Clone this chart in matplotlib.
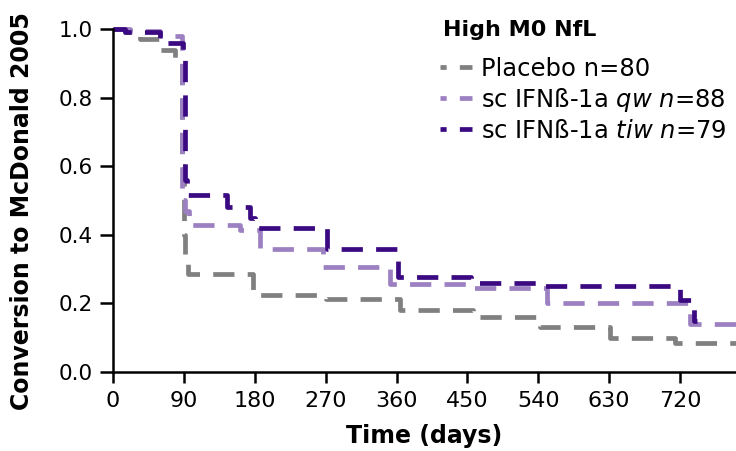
import matplotlib
matplotlib.use("Agg")
import matplotlib.pyplot as plt

# step curves: (day, value after the step)
placebo_t = [0, 15, 34, 60, 79, 88, 90, 92, 95, 178, 270, 364, 457, 542, 631, 714, 791]
placebo_s = [1.0, 0.99, 0.97, 0.94, 0.90, 0.60, 0.40, 0.326, 0.286, 0.225, 0.213, 0.18, 0.16, 0.13, 0.10, 0.085, 0.085]

qw_t = [0, 22, 60, 88, 92, 97, 161, 187, 267, 352, 455, 551, 733, 791]
qw_s = [1.0, 0.995, 0.98, 0.50, 0.47, 0.43, 0.415, 0.36, 0.305, 0.257, 0.245, 0.20, 0.14, 0.14]

tiw_t = [0, 15, 60, 89, 91, 94, 145, 174, 180, 272, 362, 455, 542, 720, 738, 741]
tiw_s = [1.0, 0.99, 0.96, 0.94, 0.56, 0.515, 0.48, 0.45, 0.42, 0.36, 0.277, 0.26, 0.25, 0.21, 0.15, 0.15]

labels = ["Placebo n=80", r"sc IFNß-1a $\it{qw}$ $\it{n}$=88", r"sc IFNß-1a $\it{tiw}$ $\it{n}$=79"]
colors = ["#808080", "#9c80c2", "#3b0a82"]
xticks = [0, 90, 180, 270, 360, 450, 540, 630, 720]
yticks = [0.0, 0.2, 0.4, 0.6, 0.8, 1.0]

plt.rcParams["font.family"] = "DejaVu Sans"
plt.rcParams["mathtext.fontset"] = "dejavusans"

fig = plt.figure(figsize=(7.36, 4.51), dpi=100)
ax = fig.add_axes([0.1535, 0.1752, 0.8465, 0.7605])

for t, s, c, lab in zip([placebo_t, qw_t, tiw_t], [placebo_s, qw_s, tiw_s], colors, labels):
    ax.step(t, s, where="post", color=c, lw=3.4, dashes=(4.5, 2.8), label=lab, clip_on=False)

ax.set_xlim(0, 791)
ax.set_ylim(0, 1.0)
ax.set_xticks(xticks)
ax.set_xticklabels([str(v) for v in xticks], fontsize=16)
ax.set_yticks(yticks)
ax.set_yticklabels([f"{v:.1f}" for v in yticks], fontsize=15.5)
ax.tick_params(axis="x", length=8, width=1.8, direction="out", pad=6)
ax.tick_params(axis="y", length=9.5, width=1.8, direction="out", pad=5)
for side in ["top", "right"]:
    ax.spines[side].set_visible(False)
for side in ["left", "bottom"]:
    ax.spines[side].set_linewidth(1.8)

ax.set_xlabel("Time (days)", fontsize=17, fontweight="bold", labelpad=9)
ax.set_ylabel("Conversion to McDonald 2005", fontsize=17, fontweight="bold")
ax.yaxis.set_label_coords(-0.127, 0.47)

fig.text(0.602, 0.933, "High M0 NfL", fontsize=16, fontweight="bold", va="center", ha="left")
leg = fig.legend(loc="upper left", bbox_to_anchor=(0.598, 0.874),
                 frameon=False, fontsize=17.5, handlelength=1.3, handletextpad=0.4,
                 labelspacing=0.2, borderpad=0, borderaxespad=0)
for ln in leg.get_lines():
    ln.set_linestyle((3.2, (4.5, 2.8)))

fig.savefig("out.png", dpi=100)
